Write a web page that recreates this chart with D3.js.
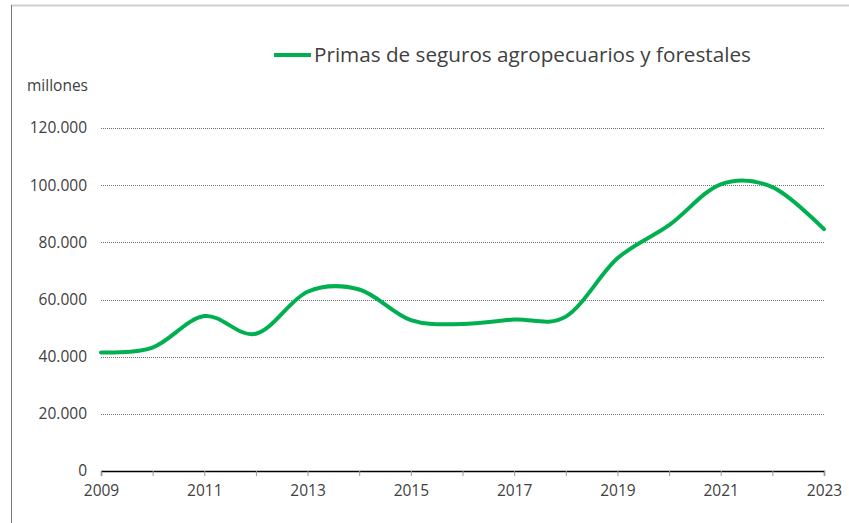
<!DOCTYPE html>
<html>
<head>
<meta charset="utf-8">
<script src="https://cdn.jsdelivr.net/npm/d3@7"></script>
<style>
  body { margin: 0; background: #fff; }
  text { font-family: "Open Sans", "Noto Sans", sans-serif; fill: #404040; }
</style>
</head>
<body>
<div id="chart"></div>
<script>
// Data (millones)
const years = [2009, 2010, 2011, 2012, 2013, 2014, 2015, 2016, 2017, 2018, 2019, 2020, 2021, 2022, 2023];
const primas = [41500, 43200, 54200, 48000, 62700, 63500, 52800, 51400, 53000, 54000, 74400, 86000, 100300, 99300, 84600];
const yTicks = [0, 20000, 40000, 60000, 80000, 100000, 120000];
const xLabels = [2009, 2011, 2013, 2015, 2017, 2019, 2021, 2023];
const seriesName = "Primas de seguros agropecuarios y forestales";
const unitLabel = "millones";

const W = 849, H = 523;
const margin = { top: 128, right: 25, bottom: 52, left: 101 };
const width = W - margin.left - margin.right;
const height = H - margin.top - margin.bottom;
const green = "#00b050";

const svg = d3.select("#chart").append("svg")
    .attr("width", W)
    .attr("height", H);

// Frame (top and left edges visible in the reference)
svg.append("line")
    .attr("x1", 11).attr("x2", W).attr("y1", 5.5).attr("y2", 5.5)
    .attr("stroke", "#d0d0d0").attr("stroke-width", 2);
svg.append("line")
    .attr("x1", 11.5).attr("x2", 11.5).attr("y1", 5).attr("y2", H)
    .attr("stroke", "#777").attr("stroke-width", 1);

const g = svg.append("g")
    .attr("transform", `translate(${margin.left},${margin.top})`);

const x = d3.scaleLinear().domain([2009, 2023]).range([0, width]);
const y = d3.scaleLinear().domain([0, 120000]).range([height, 0]);

// Gridlines
g.selectAll(".grid")
    .data(yTicks.filter(d => d > 0))
    .enter().append("line")
    .attr("class", "grid")
    .attr("x1", 0).attr("x2", width)
    .attr("y1", d => Math.round(y(d)) + 0.5).attr("y2", d => Math.round(y(d)) + 0.5)
    .attr("stroke", "#707070")
    .attr("stroke-width", 1)
    .attr("stroke-dasharray", "1,1");

// Y axis labels
const yFormat = d => d3.format(",")(d).replace(/,/g, ".");
g.selectAll(".ylab")
    .data(yTicks)
    .enter().append("text")
    .attr("class", "ylab")
    .attr("x", -14)
    .attr("y", d => y(d))
    .attr("dy", "0.35em")
    .attr("text-anchor", "end")
    .style("font-size", "15.5px")
    .text(yFormat);

// X axis
const xAxis = d3.axisBottom(x)
    .tickValues(years)
    .tickSize(5)
    .tickFormat(d => xLabels.includes(d) ? d : "");
const xg = g.append("g")
    .attr("transform", `translate(0,${height})`)
    .call(xAxis);
xg.select(".domain").attr("stroke", "#000").attr("stroke-width", 1.3);
xg.selectAll(".tick line").attr("stroke", "#999");
xg.selectAll(".tick text")
    .attr("y", 14)
    .attr("dy", "0.71em")
    .style("font-size", "15.5px")
    .style("font-family", "'Open Sans', 'Noto Sans', sans-serif")
    .attr("fill", "#404040");

// Line
const line = d3.line()
    .x((d, i) => x(years[i]))
    .y(d => y(d))
    .curve(d3.curveCatmullRom.alpha(0));

g.append("path")
    .datum(primas)
    .attr("fill", "none")
    .attr("stroke", green)
    .attr("stroke-width", 4)
    .attr("stroke-linecap", "round")
    .attr("d", line);

// Unit label
svg.append("text")
    .attr("x", 27)
    .attr("y", 91)
    .style("font-size", "15.5px")
    .text(unitLabel);

// Legend
const legend = svg.append("g").attr("transform", "translate(274,55)");
legend.append("line")
    .attr("x1", 0).attr("x2", 37)
    .attr("y1", 0).attr("y2", 0)
    .attr("stroke", green)
    .attr("stroke-width", 4);
const legText = legend.append("text")
    .attr("x", 40)
    .attr("y", 7)
    .style("font-size", "19px")
    .text(seriesName);
// fit legend text to the reference width
const wanted = 437;
const got = legText.node().getComputedTextLength();
legText.style("font-size", (19 * wanted / got).toFixed(2) + "px");
</script>
</body>
</html>
